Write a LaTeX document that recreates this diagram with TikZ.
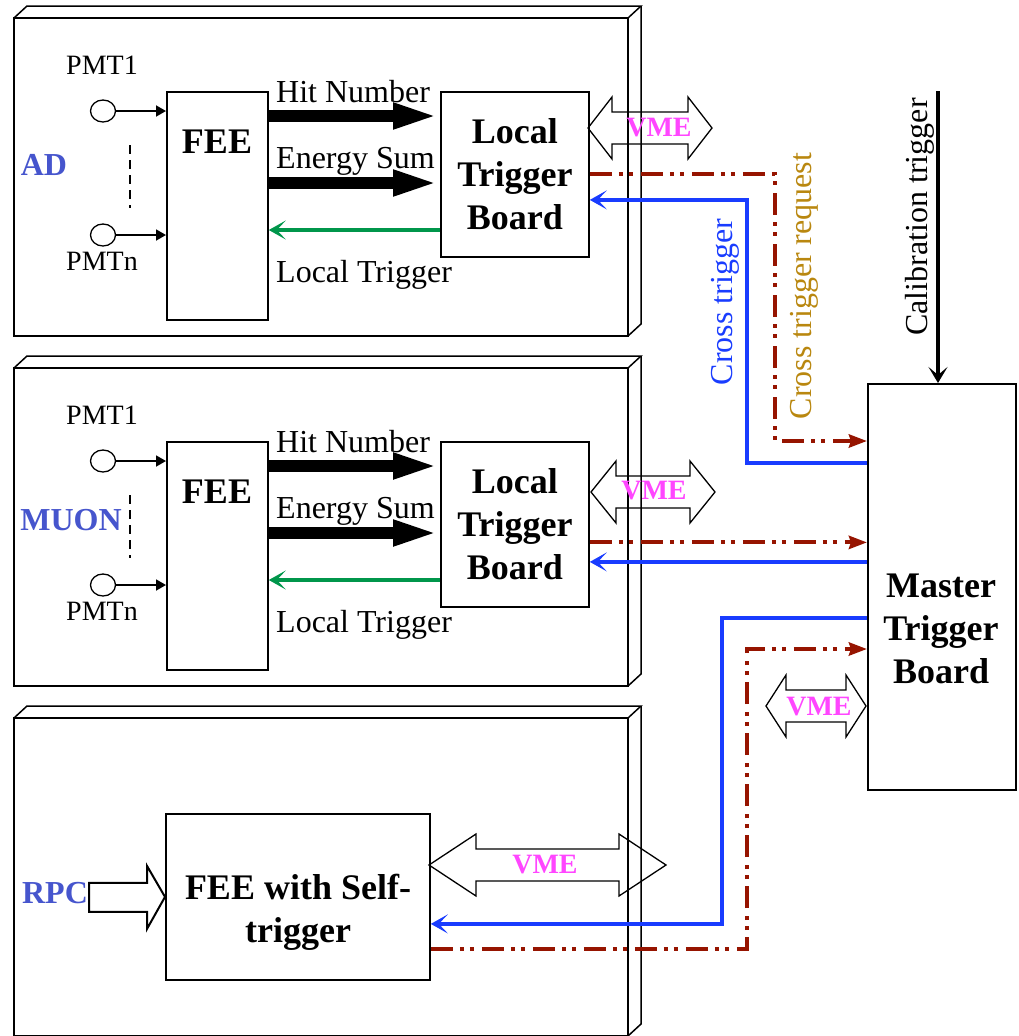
\documentclass[tikz,border=0pt]{standalone}
\usepackage{fontspec}
\setmainfont{Liberation Serif}
\usetikzlibrary{calc,arrows.meta,shapes.geometric}

\definecolor{siteblue}{RGB}{70,85,205}
\definecolor{vmepink}{RGB}{255,70,255}
\definecolor{crossblue}{RGB}{25,60,255}
\definecolor{reqred}{RGB}{150,20,0}
\definecolor{reqgold}{RGB}{185,135,15}
\definecolor{localgreen}{RGB}{0,150,75}

% crate with 3d top and side, #1 = top of front face
\newcommand{\crate}[1]{%
  \draw[panelline] (14,#1) rectangle (628,{#1+318});
  \draw[panelline] (14,#1) -- (27,{#1-12}) -- (641,{#1-12}) -- (628,#1);
  \draw[panelline] (641,{#1-12}) -- (641,{#1+306}) -- (628,{#1+318});
}
% hollow double arrow: left tip, right tip, mid y, head length
\newcommand{\vmebus}[4]{%
  \draw[busline] (#1,#3) -- ({#1+#4},{#3-31}) -- ({#1+#4},{#3-16}) -- ({#2-#4},{#3-16})
    -- ({#2-#4},{#3-31}) -- (#2,#3) -- ({#2-#4},{#3+31}) -- ({#2-#4},{#3+16})
    -- ({#1+#4},{#3+16}) -- ({#1+#4},{#3+31}) -- cycle;
}

\begin{document}
\begin{tikzpicture}[x=1pt,y=-1pt,
  panelline/.style={line width=1.5pt,line join=miter},
  box/.style={draw,line width=1.8pt,inner sep=0pt,anchor=north west},
  boxtext/.style={font=\fontsize{36}{43}\selectfont\bfseries,align=center},
  sig/.style={font=\fontsize{32}{38}\selectfont,inner sep=0pt},
  pmtlab/.style={font=\fontsize{28}{34}\selectfont,inner sep=0pt},
  site/.style={font=\fontsize{32}{38}\selectfont\bfseries,text=siteblue,inner sep=0pt},
  vmetext/.style={font=\fontsize{28}{34}\selectfont\bfseries,text=vmepink,inner sep=0pt},
  busline/.style={line width=1.3pt,line join=miter},
  pmt/.style={draw,ellipse,line width=1.3pt,minimum width=25pt,minimum height=22pt,inner sep=0pt},
  pmtarrow/.style={line width=1.8pt,-{Triangle[length=10pt,width=11pt]}},
  bigarrow/.style={line width=12.7pt,-{Triangle[length=47pt,width=23pt]}},
  localarrow/.style={line width=4pt,localgreen,-{Stealth[length=17pt,width=19pt,inset=9pt]}},
  cross/.style={line width=4pt,crossblue,-{Stealth[length=17pt,width=19pt,inset=9pt]}},
  req/.style={line width=4pt,reqred,dash pattern=on 22pt off 7pt on 4pt off 6pt on 4pt off 8pt,
    -{Stealth[length=18pt,width=13pt,inset=2pt]}},
  calibarrow/.style={line width=4pt,-{Stealth[length=16pt,width=19pt,inset=8pt]}}
]
\useasboundingbox (0,0) rectangle (1018,1036);

% crates
\crate{18}
\crate{368}
\crate{718}

% AD crate
\node[site,anchor=base] (ad) at (44,175) {AD};
\node[pmt] (pmt1a) at (103,111) {};
\node[pmt] (pmt1n) at (103,235) {};
\node[pmtlab,anchor=base] (pmt1alab) at (102,74) {PMT1};
\node[pmtlab,anchor=base] (pmt1nlab) at (102,270) {PMTn};
\draw[line width=1.5pt,dash pattern=on 9pt off 6pt] (130,145) -- (130,208);
\node[box,minimum width=101pt,minimum height=228pt] (fee1) at (166,91) {};
\node[boxtext] (fee1txt) at (217,142) {FEE};
\node[box,boxtext,minimum width=148pt,minimum height=165pt] (ltb1) at (440,91) {Local\\Trigger\\Board};
\draw[pmtarrow] (pmt1a) -- (pmt1a -| fee1.west);
\draw[pmtarrow] (pmt1n) -- (pmt1n -| fee1.west);
\draw[bigarrow] ([yshift=-25pt]fee1.north east) -- ([yshift=-25pt]ltb1.north west);
\draw[bigarrow] ([yshift=-92pt]fee1.north east) -- ([yshift=-92pt]ltb1.north west);
\draw[localarrow] ([yshift=-139pt]ltb1.north west) -- ([yshift=-139pt]fee1.north east);
\node[sig,anchor=base west] (hit1) at (276,102) {Hit Number};
\node[sig,anchor=base west] (esum1) at (276,168) {Energy Sum};
\node[sig,anchor=base west] (loc1) at (276,282) {Local Trigger};

% MUON crate
\node[site,anchor=base] (muon) at (71,530) {MUON};
\node[pmt] (pmt2a) at (103,461) {};
\node[pmt] (pmt2n) at (103,585) {};
\node[pmtlab,anchor=base] (pmt2alab) at (102,424) {PMT1};
\node[pmtlab,anchor=base] (pmt2nlab) at (102,620) {PMTn};
\draw[line width=1.5pt,dash pattern=on 9pt off 6pt] (130,495) -- (130,558);
\node[box,minimum width=101pt,minimum height=228pt] (fee2) at (166,441) {};
\node[boxtext] (fee2txt) at (217,492) {FEE};
\node[box,boxtext,minimum width=148pt,minimum height=165pt] (ltb2) at (440,441) {Local\\Trigger\\Board};
\draw[pmtarrow] (pmt2a) -- (pmt2a -| fee2.west);
\draw[pmtarrow] (pmt2n) -- (pmt2n -| fee2.west);
\draw[bigarrow] ([yshift=-25pt]fee2.north east) -- ([yshift=-25pt]ltb2.north west);
\draw[bigarrow] ([yshift=-92pt]fee2.north east) -- ([yshift=-92pt]ltb2.north west);
\draw[localarrow] ([yshift=-139pt]ltb2.north west) -- ([yshift=-139pt]fee2.north east);
\node[sig,anchor=base west] (hit2) at (276,452) {Hit Number};
\node[sig,anchor=base west] (esum2) at (276,518) {Energy Sum};
\node[sig,anchor=base west] (loc2) at (276,632) {Local Trigger};

% RPC crate
\node[site,anchor=base] (rpc) at (55,903) {RPC};
\node[box,minimum width=264pt,minimum height=166pt] (feeself) at (165,813) {};
\node[boxtext] (feeselftxt) at (298,912) {FEE with Self-\\trigger};
\draw[line width=2pt,line join=miter] (feeself.west) -- ++(-18,-31) -- ++(0,17) -- ++(-58,0)
  -- ++(0,29) -- ++(58,0) -- ++(0,17) -- cycle;

% master trigger board
\node[box,minimum width=148pt,minimum height=406pt] (master) at (867,383) {};
\node[boxtext] (mastertxt) at (941,629) {Master\\Trigger\\Board};
\coordinate (calib) at (938,91);
\draw[calibarrow] (calib) -- (calib |- master.north);
\node[sig,rotate=90,anchor=base] (caliblab) at (927,217) {Calibration trigger};

% VME buses
\vmebus{588}{712}{128}{24}
\node[vmetext] (vme1) at (659,128) {VME};
\vmebus{591}{715}{492}{25}
\node[vmetext] (vme2) at (654,491) {VME};
\vmebus{766}{866}{706}{20}
\node[vmetext] (vme3) at (819,707) {VME};
\vmebus{429}{666}{865}{47}
\node[vmetext] (vme4) at (545,865) {VME};

% cross trigger request (to master)
\coordinate (req1) at (775,441);
\draw[req] (ltb1.east) -| (req1) -- (req1 -| master.west);
\coordinate (ltb2r) at ([yshift=-18pt]ltb2.east);
\draw[req] (ltb2r) -- (ltb2r -| master.west);
\coordinate (fsr) at ([yshift=-52pt]feeself.east);
\coordinate (req3) at (747,649);
\draw[req] (fsr) -| (req3) -- (req3 -| master.west);

% cross trigger (from master)
\coordinate (ltb1c) at ([yshift=-25.5pt]ltb1.east);
\coordinate (cross1) at (747,463);
\draw[cross] (cross1 -| master.west) -- (cross1) |- (ltb1c);
\coordinate (ltb2c) at ([yshift=-37.5pt]ltb2.east);
\draw[cross] (ltb2c -| master.west) -- (ltb2c);
\coordinate (fsc) at ([yshift=-27pt]feeself.east);
\coordinate (cross3) at (722,618);
\draw[cross] (cross3 -| master.west) -- (cross3) |- (fsc);

\node[sig,text=crossblue,rotate=90,anchor=base] (crosslab) at (732,302) {Cross trigger};
\node[sig,text=reqgold,rotate=90,anchor=base] (reqlab) at (811,286) {Cross trigger request};
\end{tikzpicture}
\end{document}
